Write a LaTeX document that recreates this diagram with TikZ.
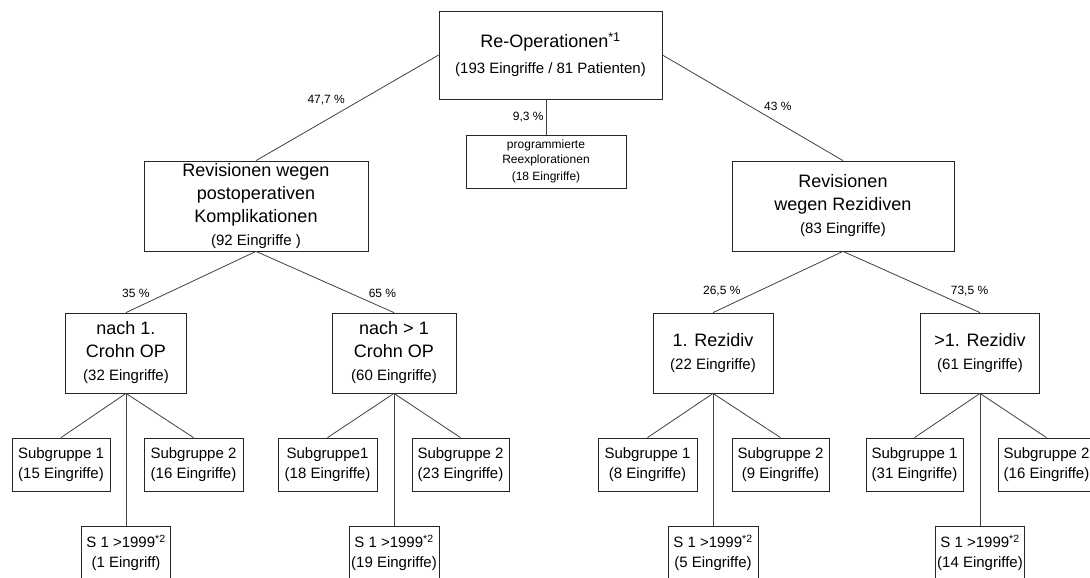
\documentclass[tikz,border=0pt]{standalone}
\usepackage{fontspec}
\setmainfont{Liberation Sans}
\usetikzlibrary{positioning}
\newcommand{\txtl}{\fontsize{18}{23}\selectfont}
\newcommand{\txtm}{\fontsize{15}{20}\selectfont}
\newcommand{\txts}{\fontsize{12}{15}\selectfont}

\begin{document}
\begin{tikzpicture}[x=1pt, y=-1pt,
	box/.style={draw=black!85, line width=0.8pt, rectangle, inner sep=0pt, align=center, font=\txtl},
	sub/.style={box, minimum height=53pt, font=\txtm},
	link/.style={draw=black!75, line width=0.8pt},
	perc/.style={font=\txts, inner sep=2pt}]
	\useasboundingbox (0,0) rectangle (1090,578);
	\clip (0,0) rectangle (1090,578);
	
	\node[box, minimum width=223pt, minimum height=88pt] (reop) at (550.5,55) {Re-Operationen\textsuperscript{*1}\\[3pt] \txtm (193 Eingriffe / 81 Patienten)};
	\node[box, minimum width=160pt, minimum height=53pt, font=\txts] (reexp) at (546,161.5) {programmierte\\ Reexplorationen\\[2pt] (18 Eingriffe)};
	\node[box, minimum width=224pt, minimum height=90pt] (revk) at (256,206) {Revisionen wegen\\ postoperativen\\ Komplikationen\\ \txtm (92 Eingriffe )};
	\node[box, minimum width=222pt, minimum height=90pt] (revr) at (843,206) {Revisionen\\ wegen Rezidiven\\ \txtm (83 Eingriffe)};
	
	\node[box, minimum width=121pt, minimum height=80pt] (n1) at (126,353) {nach 1.\\ Crohn OP\\ \txtm (32 Eingriffe)};
	\node[box, minimum width=124pt, minimum height=80pt] (n2) at (394,353) {nach > 1\\ Crohn OP\\ \txtm (60 Eingriffe)};
	\node[box, minimum width=120pt, minimum height=80pt] (r1) at (713,353) {1. Rezidiv\\ \txtm (22 Eingriffe)};
	\node[box, minimum width=119pt, minimum height=80pt] (r2) at (980,353) {>1. Rezidiv\\ \txtm (61 Eingriffe)};
	
	\node[sub, minimum width=98pt] (n1a) at (61,464.5) {Subgruppe 1\\ (15 Eingriffe)};
	\node[sub, minimum width=99pt] (n1b) at (193.5,464.5) {Subgruppe 2\\ (16 Eingriffe)};
	\node[sub, minimum width=89pt] (n1c) at (126,552.5) {S 1 >1999\textsuperscript{*2}\\ (1 Eingriff)};
	\node[sub, minimum width=99pt] (n2a) at (327.5,464.5) {Subgruppe1\\ (18 Eingriffe)};
	\node[sub, minimum width=97pt] (n2b) at (460.5,464.5) {Subgruppe 2\\ (23 Eingriffe)};
	\node[sub, minimum width=90pt] (n2c) at (394,552.5) {S 1 >1999\textsuperscript{*2}\\ (19 Eingriffe)};
	\node[sub, minimum width=99pt] (r1a) at (647.5,464.5) {Subgruppe 1\\ (8 Eingriffe)};
	\node[sub, minimum width=97pt] (r1b) at (780.5,464.5) {Subgruppe 2\\ (9 Eingriffe)};
	\node[sub, minimum width=90pt] (r1c) at (713,552.5) {S 1 >1999\textsuperscript{*2}\\ (5 Eingriffe)};
	\node[sub, minimum width=97pt] (r2a) at (914.5,464.5) {Subgruppe 1\\ (31 Eingriffe)};
	\node[sub, minimum width=97pt] (r2b) at (1046.5,464.5) {Subgruppe 2\\ (16 Eingriffe)};
	\node[sub, minimum width=89pt] (r2c) at (980,552.5) {S 1 >1999\textsuperscript{*2}\\ (14 Eingriffe)};
	
	\draw[link] (reop.west) -- node[perc, pos=.5, above left] {47,7 \%} (revk.north);
	\draw[link] (reop.south -| reexp.north) -- node[perc, left] {9,3 \%} (reexp.north);
	\draw[link] (reop.east) -- node[perc, pos=.55, above right] {43 \%} (revr.north);
	
	\draw[link] (revk.south) -- node[perc, pos=.8, above left] {35 \%} (n1.north);
	\draw[link] (revk.south) -- node[perc, pos=.8, above right] {65 \%} (n2.north);
	\draw[link] (revr.south) -- node[perc, pos=.77, above left] {26,5 \%} (r1.north);
	\draw[link] (revr.south) -- node[perc, pos=.77, above right] {73,5 \%} (r2.north);
	
	\draw[link] (n1.south) -- (n1a.north);
	\draw[link] (n1.south) -- (n1b.north);
	\draw[link] (n1.south) -- (n1c.north);
	\draw[link] (n2.south) -- (n2a.north);
	\draw[link] (n2.south) -- (n2b.north);
	\draw[link] (n2.south) -- (n2c.north);
	\draw[link] (r1.south) -- (r1a.north);
	\draw[link] (r1.south) -- (r1b.north);
	\draw[link] (r1.south) -- (r1c.north);
	\draw[link] (r2.south) -- (r2a.north);
	\draw[link] (r2.south) -- (r2b.north);
	\draw[link] (r2.south) -- (r2c.north);
\end{tikzpicture}
\end{document}
